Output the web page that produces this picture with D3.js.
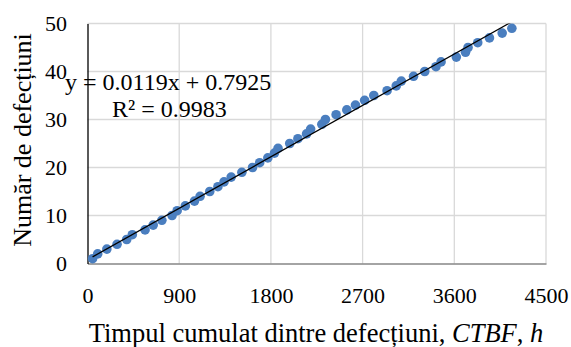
<!DOCTYPE html>
<html>
<head>
<meta charset="utf-8">
<script src="https://cdn.jsdelivr.net/npm/d3@7"></script>
<style>
  body { margin: 0; background: #fff; }
</style>
</head>
<body>
<svg id="chart" width="571" height="347" font-family="Liberation Serif"></svg>
<script>
// cumulative time between failures (h) and failure number
const ctbf = [50, 100, 190, 290, 385, 440, 565, 645, 730, 830,
  880, 960, 1050, 1105, 1200, 1280, 1340, 1410, 1515, 1620,
  1690, 1770, 1835, 1870, 1985, 2065, 2150, 2190, 2300, 2335,
  2440, 2545, 2630, 2720, 2810, 2940, 3030, 3080, 3200, 3310,
  3420, 3470, 3620, 3710, 3735, 3830, 3945, 4070, 4165]
const failures = ctbf.map((d, i) => i + 1)

const xTicks = [0, 900, 1800, 2700, 3600, 4500]
const yTicks = [0, 10, 20, 30, 40, 50]
const slope = 0.0119
const intercept = 0.7925
const eqLabel = 'y = 0.0119x + 0.7925'
const r2Label = 'R² = 0.9983'

const margin = { left: 87.5, right: 25, top: 23.5, bottom: 83.5 }
const svg = d3.select('#chart')
const width = 571 - margin.left - margin.right
const height = 347 - margin.top - margin.bottom

const x = d3.scaleLinear().domain([0, 4500]).range([0, width])
const y = d3.scaleLinear().domain([0, 50]).range([height, 0])

const g = svg.append('g').attr('transform', `translate(${margin.left},${margin.top})`)

// gridlines
g.append('g')
  .selectAll('line.h')
  .data(yTicks.slice(1))
  .enter()
  .append('line')
  .attr('x1', 0).attr('x2', width)
  .attr('y1', d => y(d)).attr('y2', d => y(d))
  .attr('stroke', '#d9d9d9').attr('stroke-width', 1.3)

g.append('g')
  .selectAll('line.v')
  .data(xTicks.slice(1))
  .enter()
  .append('line')
  .attr('x1', d => x(d)).attr('x2', d => x(d))
  .attr('y1', 0).attr('y2', height)
  .attr('stroke', '#d9d9d9').attr('stroke-width', 1.3)

// axes
const xAxis = g.append('g')
  .attr('transform', `translate(0,${height})`)
  .call(d3.axisBottom(x).tickValues(xTicks).tickFormat(d3.format('d')).tickSize(0).tickPadding(24))
xAxis.attr('font-family', 'Liberation Serif').attr('font-size', 22)
xAxis.select('.domain').attr('stroke', '#868686').attr('stroke-width', 1.3)

const yAxis = g.append('g')
  .call(d3.axisLeft(y).tickValues(yTicks).tickSize(0).tickPadding(20.5))
yAxis.attr('font-family', 'Liberation Serif').attr('font-size', 22)
yAxis.select('.domain').attr('stroke', '#000').attr('stroke-width', 1.3)

// points
g.append('g')
  .selectAll('circle')
  .data(ctbf)
  .enter()
  .append('circle')
  .attr('cx', d => x(d))
  .attr('cy', (d, i) => y(failures[i]))
  .attr('r', 4.8)
  .attr('fill', '#4a7ebf')

// linear trendline, clipped to the plot
g.append('clipPath').attr('id', 'clip')
  .append('rect').attr('width', width).attr('height', height)

const xMin = d3.min(ctbf)
const xMax = d3.max(ctbf)
g.append('line')
  .attr('clip-path', 'url(#clip)')
  .attr('x1', x(xMin)).attr('y1', y(slope * xMin + intercept))
  .attr('x2', x(xMax)).attr('y2', y(slope * xMax + intercept))
  .attr('stroke', '#000').attr('stroke-width', 1.3)

// equation
svg.append('text')
  .attr('x', 65).attr('y', 90)
  .attr('font-size', 24)
  .text(eqLabel)
svg.append('text')
  .attr('x', 112).attr('y', 117)
  .attr('font-size', 24)
  .text(r2Label)

// axis titles
const xTitle = svg.append('text')
  .attr('x', 316).attr('y', 342)
  .attr('text-anchor', 'middle')
  .attr('font-size', 26.5)
xTitle.append('tspan').text('Timpul cumulat dintre defecțiuni, ')
xTitle.append('tspan').attr('font-style', 'italic').text('CTBF')
xTitle.append('tspan').text(', ')
xTitle.append('tspan').attr('font-style', 'italic').text('h')

svg.append('text')
  .attr('transform', 'translate(31,140) rotate(-90)')
  .attr('text-anchor', 'middle')
  .attr('font-size', 26)
  .text('Număr de defecțiuni')
</script>
</body>
</html>
